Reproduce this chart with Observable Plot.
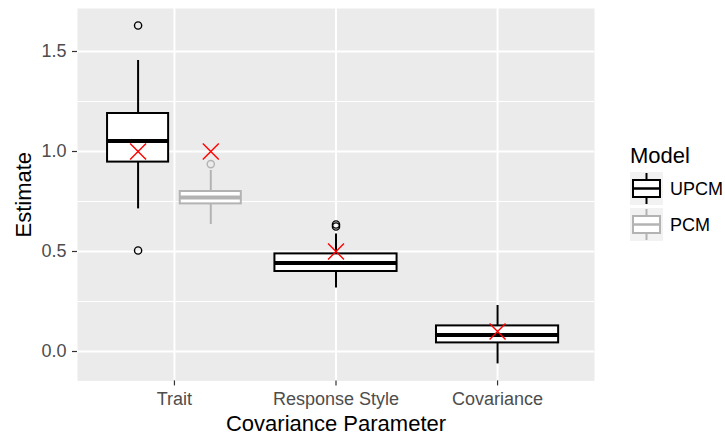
<!DOCTYPE html>
<html>
<head>
<meta charset="utf-8">
<script src="https://cdn.jsdelivr.net/npm/d3@7"></script>
<script src="https://cdn.jsdelivr.net/npm/@observablehq/plot@0.6"></script>
<style>
  html, body { margin: 0; padding: 0; background: #fff; }
  #wrap { position: relative; width: 725px; height: 439px; font-family: "Liberation Sans", Arial, sans-serif; }
  #legend { position: absolute; left: 0; top: 0; }
</style>
</head>
<body>
<div id="wrap"></div>
<script>
// ---- data ----
const categories = ["Trait", "Response Style", "Covariance"];
const models = ["UPCM", "PCM"];
const modelColors = ["#000000", "#b3b3b3"];

const boxCategory = ["Trait", "Trait", "Response Style", "Covariance"];
const boxModel    = ["UPCM", "PCM", "UPCM", "UPCM"];
const whiskerLow  = [0.713, 0.635, 0.318, -0.062];
const q1          = [0.947, 0.738, 0.400, 0.043];
const median      = [1.053, 0.770, 0.443, 0.082];
const q3          = [1.190, 0.800, 0.488, 0.128];
const whiskerHigh = [1.455, 0.905, 0.588, 0.230];

const outlierCategory = ["Trait", "Trait", "Trait", "Response Style", "Response Style"];
const outlierModel    = ["UPCM", "UPCM", "PCM", "UPCM", "UPCM"];
const outlierValue    = [1.630, 0.505, 0.937, 0.635, 0.625];

const trueCategory = ["Trait", "Trait", "Response Style", "Covariance"];
const trueModel    = ["UPCM", "PCM", "UPCM", "UPCM"];
const trueValue    = [1.0, 1.0, 0.5, 0.1];

const yTicks = [0, 0.5, 1.0, 1.5];
const yMinor = [0.25, 0.75, 1.25];

// ---- dodge layout (like ggplot position_dodge2: total 0.9, padding) ----
const dodgeWidth = 0.9;
const boxFraction = 0.84;
const slot = {};
categories.forEach((c, i) => {
  const present = boxModel.filter((m, j) => boxCategory[j] === c);
  const n = present.length;
  present.forEach((m, k) => {
    const w = dodgeWidth / n;
    const center = i - dodgeWidth / 2 + (k + 0.5) * w;
    const bw = w * boxFraction;
    slot[c + "|" + m] = {center, x1: center - bw / 2, x2: center + bw / 2};
  });
});

const boxes = boxCategory.map((c, j) => {
  const s = slot[c + "|" + boxModel[j]];
  return {category: c, model: boxModel[j], lo: whiskerLow[j], q1: q1[j], med: median[j], q3: q3[j], hi: whiskerHigh[j], ...s};
});
const outliers = outlierCategory.map((c, j) => ({model: outlierModel[j], value: outlierValue[j], ...slot[c + "|" + outlierModel[j]]}));
const truths = trueCategory.map((c, j) => ({model: trueModel[j], value: trueValue[j], ...slot[c + "|" + trueModel[j]]}));

const tickColor = "#333333";
const textColor = "#4d4d4d";

const chart = Plot.plot({
  width: 725,
  height: 439,
  marginLeft: 77,
  marginRight: 131,
  marginTop: 8,
  marginBottom: 58.6,
  style: {fontFamily: "\"Liberation Sans\", Arial, sans-serif", background: "#ffffff", overflow: "visible"},
  x: {type: "linear", domain: [-0.6, categories.length - 1 + 0.6]},
  y: {domain: [-0.147, 1.715]},
  color: {domain: models, range: modelColors},
  marks: [
    Plot.frame({fill: "#ebebeb", stroke: "none"}),
    Plot.ruleY(yMinor, {stroke: "#ffffff", strokeWidth: 1}),
    Plot.ruleY(yTicks, {stroke: "#ffffff", strokeWidth: 2}),
    Plot.ruleX(d3.range(categories.length), {stroke: "#ffffff", strokeWidth: 2}),
    Plot.axisY({ticks: yTicks, tickFormat: d3.format(".1f"), tickSize: 5, tickPadding: 6, fontSize: 18, stroke: tickColor, fill: textColor, strokeWidth: 1.2, label: null}),
    Plot.axisX({ticks: d3.range(categories.length), tickFormat: i => categories[i], tickSize: 5, tickPadding: 6, fontSize: 18, stroke: tickColor, fill: textColor, strokeWidth: 1.2, label: null}),
    // whiskers
    Plot.ruleX(boxes, {x: "center", y1: "lo", y2: "q1", stroke: "model", strokeWidth: 2}),
    Plot.ruleX(boxes, {x: "center", y1: "q3", y2: "hi", stroke: "model", strokeWidth: 2}),
    // boxes
    Plot.rect(boxes, {x1: "x1", x2: "x2", y1: "q1", y2: "q3", fill: "#ffffff", stroke: "model", strokeWidth: 2}),
    Plot.ruleY(boxes, {x1: "x1", x2: "x2", y: "med", stroke: "model", strokeWidth: 4}),
    // outliers
    Plot.dot(outliers, {x: "center", y: "value", stroke: "model", fill: "none", r: 3.6, strokeWidth: 1.4}),
    // true values
    Plot.dot(truths, {x: "center", y: "value", symbol: "times", r: 7.3, stroke: "#ff0000", strokeWidth: 1.4}),
    // axis titles
    Plot.text(["Estimate"], {frameAnchor: "left", dx: -54, rotate: -90, textAnchor: "middle", lineAnchor: "middle", fontSize: 22, fill: "#000000", text: d => d}),
    Plot.text(["Covariance Parameter"], {frameAnchor: "bottom", dy: 43.5, textAnchor: "middle", lineAnchor: "middle", fontSize: 22, fill: "#000000", text: d => d})
  ]
});
document.getElementById("wrap").appendChild(chart);

// ---- legend (right side) ----
const leg = d3.select("#wrap").append("svg")
  .attr("id", "legend").attr("width", 725).attr("height", 439)
  .style("pointer-events", "none")
  .style("font-family", "\"Liberation Sans\", Arial, sans-serif");
leg.append("text").attr("x", 630).attr("y", 155).attr("dy", "0.35em")
  .attr("font-size", 22).attr("fill", "#000").text("Model");
models.forEach((m, i) => {
  const top = 172 + i * 36, size = 33;
  const g = leg.append("g").attr("transform", `translate(630,${top})`);
  g.append("rect").attr("width", size).attr("height", size).attr("fill", "#f2f2f2");
  const c = modelColors[i];
  g.append("line").attr("x1", size / 2).attr("x2", size / 2).attr("y1", 1).attr("y2", 8).attr("stroke", c).attr("stroke-width", 2);
  g.append("line").attr("x1", size / 2).attr("x2", size / 2).attr("y1", 25).attr("y2", 32).attr("stroke", c).attr("stroke-width", 2);
  g.append("rect").attr("x", 3).attr("y", 8).attr("width", size - 6).attr("height", 17).attr("fill", "#fff").attr("stroke", c).attr("stroke-width", 2);
  g.append("line").attr("x1", 3).attr("x2", size - 3).attr("y1", size / 2).attr("y2", size / 2).attr("stroke", c).attr("stroke-width", 2.5);
  leg.append("text").attr("x", 670).attr("y", top + size / 2).attr("dy", "0.35em")
    .attr("font-size", 18).attr("fill", "#000").text(m);
});
</script>
</body>
</html>
